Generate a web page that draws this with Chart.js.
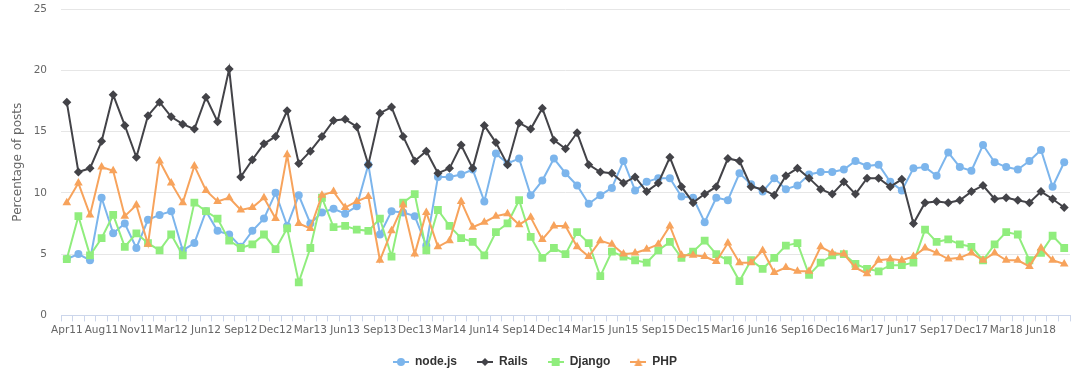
<!DOCTYPE html>
<html>
<head>
<meta charset="utf-8">
<title>Percentage of posts</title>
<script src="https://cdn.jsdelivr.net/npm/chart.js@4.4.1/dist/chart.umd.min.js"></script>
<style>
    html, body { margin: 0; padding: 0; background: #ffffff; }
    #wrap { width: 1080px; height: 377px; }
</style>
</head>
<body>
<div id="wrap"><canvas id="postsChart" width="1080" height="377"></canvas></div>
<script>
// Months shown on the x axis (two months missing in 2011/12 in the source data)
const months = [
    'Apr11', 'May11', 'Jul11', 'Aug11', 'Sep11', 'Oct11', 'Nov11', 'Dec11', 'Feb12', 'Mar12',
    'Apr12', 'May12', 'Jun12', 'Jul12', 'Aug12', 'Sep12', 'Oct12', 'Nov12', 'Dec12', 'Jan13',
    'Feb13', 'Mar13', 'Apr13', 'May13', 'Jun13', 'Jul13', 'Aug13', 'Sep13', 'Oct13', 'Nov13',
    'Dec13', 'Jan14', 'Feb14', 'Mar14', 'Apr14', 'May14', 'Jun14', 'Jul14', 'Aug14', 'Sep14',
    'Oct14', 'Nov14', 'Dec14', 'Jan15', 'Feb15', 'Mar15', 'Apr15', 'May15', 'Jun15', 'Jul15',
    'Aug15', 'Sep15', 'Oct15', 'Nov15', 'Dec15', 'Jan16', 'Feb16', 'Mar16', 'Apr16', 'May16',
    'Jun16', 'Jul16', 'Aug16', 'Sep16', 'Oct16', 'Nov16', 'Dec16', 'Jan17', 'Feb17', 'Mar17',
    'Apr17', 'May17', 'Jun17', 'Jul17', 'Aug17', 'Sep17', 'Oct17', 'Nov17', 'Dec17', 'Jan18',
    'Feb18', 'Mar18', 'Apr18', 'May18', 'Jun18', 'Jul18', 'Aug18'
];

const nodejs = [
    4.6, 5.0, 4.5, 9.6, 6.7, 7.5, 5.5, 7.8, 8.2, 8.5,
    5.3, 5.9, 8.5, 6.9, 6.6, 5.6, 6.9, 7.9, 10.0, 7.3,
    9.8, 7.5, 8.4, 8.7, 8.3, 8.9, 12.3, 6.6, 8.5, 8.4,
    8.1, 5.7, 11.3, 11.3, 11.5, 11.9, 9.3, 13.2, 12.4, 12.8,
    9.8, 11.0, 12.8, 11.6, 10.6, 9.1, 9.8, 10.4, 12.6, 10.2,
    10.9, 11.2, 11.2, 9.7, 9.6, 7.6, 9.6, 9.4, 11.6, 10.7,
    10.1, 11.2, 10.3, 10.6, 11.5, 11.7, 11.7, 11.9, 12.6, 12.2,
    12.3, 10.9, 10.2, 12.0, 12.1, 11.4, 13.3, 12.1, 11.8, 13.9,
    12.5, 12.1, 11.9, 12.6, 13.5, 10.5, 12.5
];

const rails = [
    17.4, 11.7, 12.0, 14.2, 18.0, 15.5, 12.9, 16.3, 17.4, 16.2,
    15.6, 15.2, 17.8, 15.8, 20.1, 11.3, 12.7, 14.0, 14.6, 16.7,
    12.4, 13.4, 14.6, 15.9, 16.0, 15.4, 12.3, 16.5, 17.0, 14.6,
    12.6, 13.4, 11.6, 12.0, 13.9, 12.0, 15.5, 14.1, 12.3, 15.7,
    15.2, 16.9, 14.3, 13.6, 14.9, 12.3, 11.7, 11.6, 10.8, 11.3,
    10.1, 10.8, 12.9, 10.5, 9.2, 9.9, 10.5, 12.8, 12.6, 10.5,
    10.3, 9.8, 11.4, 12.0, 11.2, 10.3, 9.9, 10.9, 9.9, 11.2,
    11.2, 10.5, 11.1, 7.5, 9.2, 9.3, 9.2, 9.4, 10.1, 10.6,
    9.5, 9.6, 9.4, 9.2, 10.1, 9.5, 8.8
];

const django = [
    4.6, 8.1, 4.9, 6.3, 8.2, 5.6, 6.7, 5.9, 5.3, 6.6,
    4.9, 9.2, 8.5, 7.9, 6.1, 5.5, 5.8, 6.6, 5.4, 7.1,
    2.7, 5.5, 9.6, 7.2, 7.3, 7.0, 6.9, 7.9, 4.8, 9.2,
    9.9, 5.3, 8.6, 7.3, 6.3, 6.0, 4.9, 6.8, 7.5, 9.4,
    6.4, 4.7, 5.5, 5.0, 6.8, 5.9, 3.2, 5.2, 4.8, 4.5,
    4.3, 5.3, 6.0, 4.7, 5.2, 6.1, 5.0, 4.5, 2.8, 4.5,
    3.8, 4.7, 5.7, 5.9, 3.3, 4.3, 4.9, 5.0, 4.2, 3.8,
    3.6, 4.1, 4.1, 4.3, 7.0, 6.0, 6.2, 5.8, 5.6, 4.5,
    5.8, 6.8, 6.6, 4.5, 5.1, 6.5, 5.5
];

const php = [
    9.2, 10.8, 8.2, 12.1, 11.8, 8.1, 9.0, 5.8, 12.6, 10.8,
    9.2, 12.2, 10.2, 9.3, 9.6, 8.6, 8.8, 9.6, 7.9, 13.1,
    7.5, 7.1, 9.8, 10.1, 8.8, 9.3, 9.7, 4.5, 6.9, 9.0,
    5.0, 8.4, 5.6, 6.1, 9.3, 7.2, 7.6, 8.1, 8.3, 7.4,
    8.0, 6.2, 7.3, 7.3, 5.6, 4.8, 6.1, 5.8, 5.0, 5.1,
    5.4, 5.8, 7.3, 4.9, 4.9, 4.8, 4.4, 5.9, 4.3, 4.3,
    5.3, 3.5, 3.9, 3.6, 3.6, 5.6, 5.1, 5.0, 3.9, 3.4,
    4.5, 4.6, 4.5, 4.8, 5.5, 5.1, 4.6, 4.7, 5.1, 4.5,
    5.1, 4.5, 4.5, 4.0, 5.5, 4.5, 4.2
];

const seriesNames = ['node.js', 'Rails', 'Django', 'PHP'];
const seriesColors = ['#7cb5ec', '#434348', '#90ed7d', '#f7a35c'];
const seriesMarkers = ['circle', 'rectRot', 'rect', 'triangle'];
const markerSizes = [4, 4.5, 5.5, 5];

// Small line + marker symbol for the legend
function legendIcon(color, shape) {
    const c = document.createElement('canvas');
    c.width = 16;
    c.height = 12;
    const g = c.getContext('2d');
    g.strokeStyle = color;
    g.lineWidth = 2;
    g.beginPath();
    g.moveTo(0, 6);
    g.lineTo(16, 6);
    g.stroke();
    g.fillStyle = color;
    g.beginPath();
    if (shape === 'circle') {
        g.arc(8, 6, 4, 0, Math.PI * 2);
    } else if (shape === 'rectRot') {
        g.moveTo(8, 2); g.lineTo(12, 6); g.lineTo(8, 10); g.lineTo(4, 6); g.closePath();
    } else if (shape === 'rect') {
        g.rect(4, 2, 8, 8);
    } else {
        g.moveTo(8, 2); g.lineTo(12, 10); g.lineTo(4, 10); g.closePath();
    }
    g.fill();
    return c;
}

const tickFont = { family: '"DejaVu Sans", Verdana, sans-serif', size: 10.5 };

document.addEventListener('DOMContentLoaded', function() {
    const values = [nodejs, rails, django, php];
    const datasets = values.map(function(data, i) {
        return {
            label: seriesNames[i],
            data: data,
            borderColor: seriesColors[i],
            backgroundColor: seriesColors[i],
            borderWidth: 2,
            tension: 0,
            pointStyle: seriesMarkers[i],
            pointRadius: markerSizes[i],
            pointBorderWidth: 0,
            pointBackgroundColor: seriesColors[i],
            order: values.length - i
        };
    });

    new Chart(document.getElementById('postsChart'), {
        type: 'line',
        data: { labels: months, datasets: datasets },
        options: {
            responsive: false,
            animation: false,
            devicePixelRatio: 1,
            layout: { padding: { top: 0, right: 10, bottom: -1, left: 0 } },
            plugins: {
                tooltip: { enabled: false },
                legend: {
                    position: 'bottom',
                    labels: {
                        usePointStyle: true,
                        pointStyleWidth: 16,
                        padding: 20,
                        color: '#333333',
                        font: { family: '"Liberation Sans", Arial, sans-serif', size: 12, weight: 'bold' },
                        generateLabels: function(chart) {
                            return chart.data.datasets.map(function(ds, i) {
                                return {
                                    text: ds.label,
                                    fillStyle: ds.borderColor,
                                    strokeStyle: ds.borderColor,
                                    lineWidth: 0,
                                    pointStyle: legendIcon(ds.borderColor, seriesMarkers[i]),
                                    hidden: !chart.isDatasetVisible(i),
                                    datasetIndex: i,
                                    fontColor: '#333333'
                                };
                            });
                        }
                    }
                }
            },
            scales: {
                x: {
                    offset: true,
                    grid: {
                        offset: true,
                        drawOnChartArea: false,
                        color: '#ccd6eb',
                        tickLength: 6
                    },
                    border: { color: '#ccd6eb' },
                    ticks: {
                        autoSkip: false,
                        maxRotation: 0,
                        minRotation: 0,
                        padding: 3,
                        color: '#666666',
                        font: tickFont,
                        callback: function(val, index) {
                            return index % 3 === 0 ? this.getLabelForValue(val) : '';
                        }
                    },
                    afterFit: function(scale) {
                        scale.height = scale.height - 4;
                    }
                },
                y: {
                    min: 0,
                    max: 25,
                    grid: { color: '#e6e6e6', drawTicks: false },
                    border: { display: false },
                    ticks: { stepSize: 5, padding: 14, color: '#666666', font: tickFont },
                    title: {
                        display: true,
                        text: 'Percentage of posts',
                        color: '#666666',
                        font: { family: '"DejaVu Sans", Verdana, sans-serif', size: 12 },
                        padding: { top: 11, bottom: 0 }
                    },
                    afterFit: function(scale) {
                        scale.width = 61;
                        // keep the top gridline close to the canvas edge
                        scale.paddingTop = 9;
                    }
                }
            }
        }
    });
});
</script>
</body>
</html>
